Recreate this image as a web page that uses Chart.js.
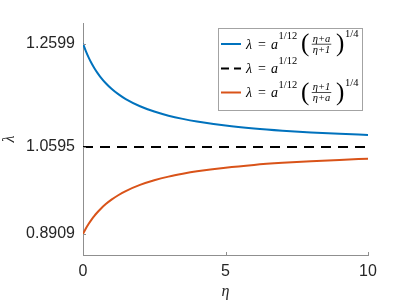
<!DOCTYPE html>
<html><head><meta charset="utf-8">
<script src="https://cdn.jsdelivr.net/npm/chart.js@4/dist/chart.umd.min.js"></script>
<style>html,body{margin:0;padding:0;background:#fff}#wrap{width:407px;height:305px;position:relative}</style>
</head><body><div id="wrap"><canvas id="c" width="407" height="305"></canvas></div>
<script>
// ---- data ----
const eta = [0,0.1,0.2,0.3,0.4,0.5,0.6,0.8,1,1.25,1.5,2,2.5,3,3.5,4,5,6,7,8,9,10];
const upperVals = [1.2599,1.2454,1.2328,1.2219,1.2123,1.2038,1.1962,1.1832,1.1725,1.1615,1.1524,1.1385,1.1282,1.1202,1.1140,1.1089,1.1011,1.0954,1.0911,1.0877,1.0850,1.0828];
const lowerVals = [0.8909,0.9013,0.9105,0.9186,0.9259,0.9324,0.9384,0.9487,0.9573,0.9664,0.9740,0.9859,0.9949,1.0020,1.0076,1.0123,1.0194,1.0247,1.0287,1.0319,1.0345,1.0367];
const refEta = [0,10];
const refVals = [1.0595,1.0595];
const xTicks = [0,5,10];
const yTicks = [0.8909,1.0595,1.2599];
const xTitle = 'η';
const yTitle = 'λ';
const fracUpper = ['η+a','η+1'];
const fracLower = ['η+1','η+a'];

const SANS = '"Liberation Sans", Arial, Helvetica, sans-serif';
const SERIF = '"Liberation Serif", "DejaVu Serif", serif';
const BLUE = '#0072BD', ORANGE = '#D95319', BLACK = '#000000';
const AXIS = '#8f8f8f', TXT = '#262626';

function pts(xs, ys){ return xs.map((x,i)=>({x:x,y:ys[i]})); }

const inwardTicks = {
  id:'inwardTicks',
  afterDraw(chart){
    const {ctx, chartArea:a, scales} = chart;
    ctx.save();
    ctx.strokeStyle = AXIS; ctx.lineWidth = 1;
    ctx.beginPath();
    xTicks.forEach(v=>{ const px = Math.round(scales.x.getPixelForValue(v))+0.5; ctx.moveTo(px,a.bottom); ctx.lineTo(px,a.bottom-3); });
    yTicks.forEach(v=>{ const py = Math.round(scales.y.getPixelForValue(v))+0.5; ctx.moveTo(a.left,py); ctx.lineTo(a.left+3,py); });
    ctx.stroke();
    ctx.restore();
  }
};

function put(ctx, text, x, y, font){ ctx.font = font; ctx.fillText(text, x, y); return x + ctx.measureText(text).width; }

function drawLead(ctx, m){
  const b = m + 4.5;
  put(ctx, 'λ', 246, b, 'italic 14px '+SERIF);
  put(ctx, '=', 258, b, '14px '+SERIF);
  put(ctx, 'a', 271, b, 'italic 14px '+SERIF);
  put(ctx, '1/12', 278.5, m - 5, '10.5px '+SERIF);
}
function drawFracPart(ctx, m, num, den){
  ctx.font = '25px '+SERIF;
  ctx.fillText('(', 301, m + 7);
  ctx.font = 'italic 10.5px '+SERIF;
  const wn = ctx.measureText(num).width, wd = ctx.measureText(den).width;
  const cx = 321.5, w = Math.max(wn, wd) + 2;
  ctx.fillText(num, cx - wn/2, m - 2.5);
  ctx.fillText(den, cx - wd/2, m + 8.5);
  ctx.fillRect(cx - w/2, m - 0.2, w, 0.7);
  ctx.font = '25px '+SERIF;
  ctx.fillText(')', 336, m + 7);
  put(ctx, '1/4', 345, m - 7, '10.5px '+SERIF);
}

const mathLegend = {
  id:'mathLegend',
  afterDraw(chart){
    const ctx = chart.ctx;
    const bx = 218.5, by = 28.5, bw = 144, bh = 82;
    ctx.save();
    ctx.fillStyle = '#fff'; ctx.fillRect(bx, by, bw, bh);
    ctx.strokeStyle = '#a3a3a3'; ctx.lineWidth = 1; ctx.strokeRect(bx, by, bw, bh);
    const rows = [44, 68.5, 92.5];
    // samples
    ctx.lineWidth = 2;
    ctx.strokeStyle = BLUE; ctx.beginPath(); ctx.moveTo(221, rows[0]); ctx.lineTo(241, rows[0]); ctx.stroke();
    ctx.strokeStyle = BLACK; ctx.setLineDash([8,5]); ctx.beginPath(); ctx.moveTo(221, rows[1]); ctx.lineTo(241, rows[1]); ctx.stroke();
    ctx.setLineDash([]);
    ctx.strokeStyle = ORANGE; ctx.beginPath(); ctx.moveTo(221, rows[2]); ctx.lineTo(241, rows[2]); ctx.stroke();
    ctx.fillStyle = '#000';
    ctx.textBaseline = 'alphabetic';
    drawLead(ctx, rows[0]); drawFracPart(ctx, rows[0], fracUpper[0], fracUpper[1]);
    drawLead(ctx, rows[1]);
    drawLead(ctx, rows[2]); drawFracPart(ctx, rows[2], fracLower[0], fracLower[1]);
    ctx.restore();
  }
};

new Chart(document.getElementById('c'), {
  type: 'line',
  data: {
    datasets: [
      { data: pts(eta, upperVals), borderColor: BLUE, borderWidth: 2, pointRadius: 0, cubicInterpolationMode: 'monotone', fill: false },
      { data: pts(refEta, refVals), borderColor: BLACK, borderWidth: 2, borderDash: [10,7], pointRadius: 0, fill: false },
      { data: pts(eta, lowerVals), borderColor: ORANGE, borderWidth: 2, pointRadius: 0, cubicInterpolationMode: 'monotone', fill: false }
    ]
  },
  options: {
    responsive: false, animation: false, devicePixelRatio: 1,
    layout: { padding: { left: 0, top: 23, right: 39, bottom: 0 } },
    plugins: { legend: { display: false }, tooltip: { enabled: false } },
    scales: {
      x: {
        type: 'linear', min: 0, max: 10,
        afterFit(s){ s.height = 50; },
        afterBuildTicks(s){ s.ticks = xTicks.map(v=>({value:v})); },
        ticks: { font: { family: SANS, size: 16 }, color: TXT, padding: 7, maxRotation: 0, callback: v => String(v) },
        grid: { drawOnChartArea: false, drawTicks: false },
        border: { color: AXIS, width: 1 },
        title: { display: true, text: xTitle, font: { family: SERIF, size: 16, style: 'italic' }, color: TXT, padding: { top: 0, bottom: 4 } }
      },
      y: {
        type: 'linear', min: 0.85, max: 1.3,
        afterFit(s){ s.width = 83; },
        afterBuildTicks(s){ s.ticks = yTicks.map(v=>({value:v})); },
        ticks: { font: { family: SANS, size: 16 }, color: TXT, padding: 8, callback: v => Number(v).toFixed(4) },
        grid: { drawOnChartArea: false, drawTicks: false },
        border: { color: AXIS, width: 1 },
        title: { display: true, text: yTitle, font: { family: SERIF, size: 16, style: 'italic' }, color: TXT, padding: { top: 0, bottom: 0 } }
      }
    }
  },
  plugins: [inwardTicks, mathLegend]
});
</script>
</body></html>
